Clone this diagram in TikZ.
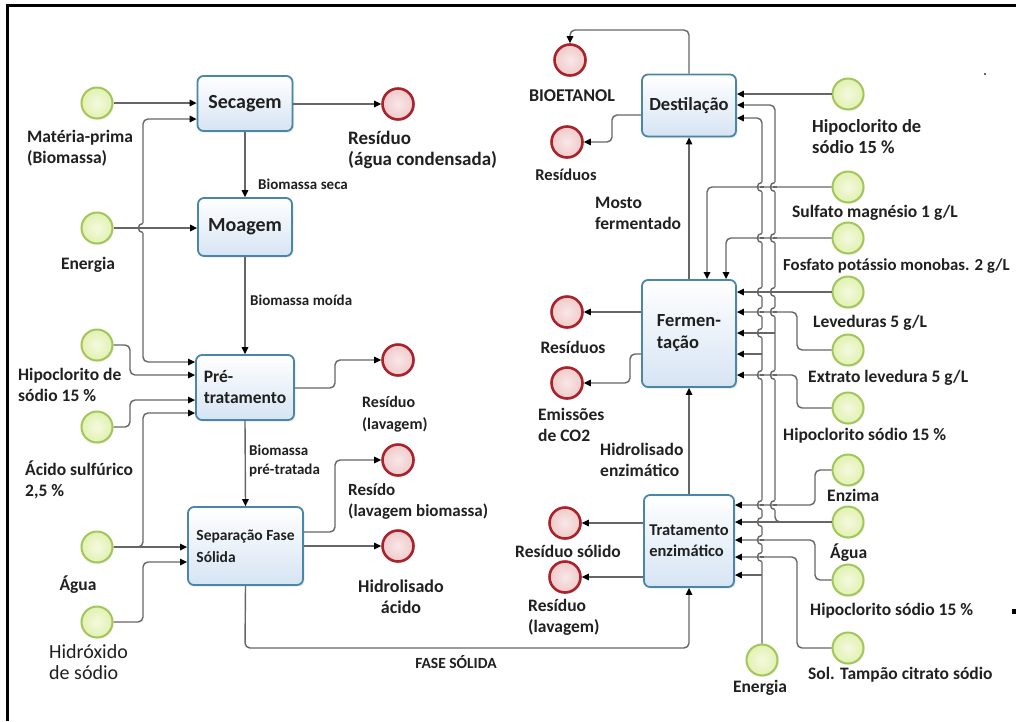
\documentclass[tikz,border=0pt]{standalone}
\usepackage{fontspec}
\setmainfont{Carlito}
\usetikzlibrary{arrows.meta,shadows}
\definecolor{wirec}{HTML}{666666}
\definecolor{boxb}{HTML}{4A86A8}
\definecolor{boxf}{HTML}{D6E4F3}
\definecolor{grnb}{HTML}{A3C65A}
\definecolor{grnf}{HTML}{E2F1B0}
\definecolor{redb}{HTML}{A8232B}
\definecolor{redf}{HTML}{F0CACA}
\definecolor{txt}{HTML}{202020}
\newcommand\vhop[2]{%
  \fill[white] ({#1-1.7},{#2-4.8}) rectangle ({#1+1.7},{#2+4.8});
  \draw[plain] ({#1-2.4},#2) -- ({#1+2.4},#2);
  \draw[plain] (#1,{#2-4.6}) .. controls ({#1-6.1},{#2-4.6}) and ({#1-6.1},{#2+4.6}) .. (#1,{#2+4.6});
}
\newcommand\fs[1]{\bfseries\fontsize{#1}{21}\selectfont}
\begin{document}
\begin{tikzpicture}[x=1pt,y=-1pt,
  font=\fs{17.5}, text=txt,
  wire/.style={draw=wirec, line width=1.4pt, rounded corners=5pt, -{Triangle[length=7pt,width=6.5pt,color=black]}},
  wire2/.style={draw=wirec, line width=1.4pt, rounded corners=5pt, {Triangle[length=7pt,width=6.5pt,color=black]}-{Triangle[length=7pt,width=6.5pt,color=black]}},
  plain/.style={draw=wirec, line width=1.4pt},
  proc/.style={draw=boxb, line width=1.8pt, rounded corners=6pt, top color=white, bottom color=boxf, inner sep=2pt, align=left,
    drop shadow={opacity=0.18, shadow xshift=1.5pt, shadow yshift=-1.5pt}},
  src/.style={circle, draw=grnb, line width=2pt, minimum size=31pt, inner sep=0pt, inner color=grnf!40!white, outer color=grnf,
    drop shadow={opacity=0.15, shadow xshift=1.2pt, shadow yshift=-1.2pt}},
  snk/.style={circle, draw=redb, line width=2.6pt, minimum size=31pt, inner sep=0pt, inner color=redf!45!white, outer color=redf,
    drop shadow={opacity=0.15, shadow xshift=1.2pt, shadow yshift=-1.2pt}},
  lbl/.style={inner sep=0pt, align=left},
  clbl/.style={inner sep=0pt, align=center}]
\useasboundingbox (0,0) rectangle (1016,721);
\fill[white] (0,0) rectangle (1016,721);
\draw[line width=2.6pt] (1016,5.5) -- (7.5,5.5) -- (7.5,721);
\fill[black!80] (985,74) circle (1.1pt);
\fill[black] (1012,609) rectangle (1016,614);

% ---------- process boxes ----------
\node[proc, minimum width=95pt, minimum height=55pt, font=\fs{20}] (sec) at (245,103.5) {Secagem};
\node[proc, minimum width=94pt, minimum height=58pt, font=\fs{20}] (moa) at (245,227) {Moagem};
\node[proc, minimum width=98pt, minimum height=65pt, font=\bfseries\fontsize{17.5}{21}\selectfont] (pre) at (245,387.5) {Pré-\\tratamento};
\node[proc, minimum width=115pt, minimum height=78pt, font=\bfseries\fontsize{15.5}{22}\selectfont] (sep) at (245.5,546) {Separação Fase\\Sólida};
\node[proc, minimum width=94pt, minimum height=62pt, font=\fs{18.5}] (dest) at (689,105.5) {Destilação};
\node[proc, minimum width=94pt, minimum height=107pt, font=\bfseries\fontsize{18.5}{22}\selectfont] (ferm) at (689,333.5) {Fermen-\\tação};
\node[proc, minimum width=90pt, minimum height=92pt, font=\bfseries\fontsize{16.5}{21}\selectfont] (trat) at (689,541) {Tratamento\\enzimático};

% ---------- sources (left) ----------
\node[src] (mp) at (97,103) {};
\node[src] (en) at (97,228) {};
\node[src] (hip1) at (97,345) {};
\node[src] (aci) at (97,427) {};
\node[src] (agu) at (97,547) {};
\node[src] (hid) at (97,622) {};
% ---------- sinks (left) ----------
\node[snk] (res1) at (398,104) {};
\node[snk] (res2) at (398,360) {};
\node[snk] (res3) at (398,460) {};
\node[snk] (hac) at (398,546) {};
% ---------- sinks (right) ----------
\node[snk] (bio) at (570,60) {};
\node[snk] (resd) at (567,142) {};
\node[snk] (resf) at (567,312) {};
\node[snk] (co2) at (567,383) {};
\node[snk] (rsol) at (565,523) {};
\node[snk] (rlav) at (565,577) {};
% ---------- sources (right) ----------
\node[src] (h1) at (848,94) {};
\node[src] (sul) at (848,187) {};
\node[src] (fos) at (848,238) {};
\node[src] (lev) at (848,292) {};
\node[src] (ext) at (848,350) {};
\node[src] (hs) at (848,408) {};
\node[src] (enz) at (848,470) {};
\node[src] (agu2) at (848,522) {};
\node[src] (hs2) at (848,580) {};
\node[src] (sol) at (848,648) {};
\node[src] (en2) at (762,660) {};

% ---------- labels ----------
\node[lbl, anchor=west] (lmp) at (27,148) {Matéria-prima\\(Biomassa)};
\node[clbl] (len) at (88,265) {Energia};
\node[lbl, anchor=west] (lhip1) at (18,385) {Hipoclorito de\\sódio 15 \%};
\node[lbl, anchor=west] (laci) at (25,480) {Ácido sulfúrico\\2,5 \%};
\node[clbl] (lagu) at (78,585) {Água};
\node[lbl, anchor=west, font=\fontsize{20}{21}\selectfont] (lhid) at (49,662) {Hidróxido\\de sódio};
\node[lbl, anchor=west, font=\fs{15}] (lbs) at (258,184) {Biomassa seca};
\node[lbl, anchor=west, font=\fs{15}] (lbm) at (250,300) {Biomassa moída};
\node[lbl, anchor=west, font=\bfseries\fontsize{15}{18.5}\selectfont] (lbp) at (249,461) {Biomassa\\pré-tratada};
\node[lbl, anchor=west, font=\fs{19}] (lres1) at (348,150) {Resíduo\\(água condensada)};
\node[lbl, anchor=west, font=\bfseries\fontsize{16}{22}\selectfont] (lres2) at (362,414) {Resíduo\\(lavagem)};
\node[lbl, anchor=west, font=\fs{17}] (lres3) at (348,501) {Resído\\(lavagem biomassa)};
\node[clbl, font=\fs{18}] (lhac) at (401,597) {Hidrolisado\\ácido};
\node[clbl, font=\fs{15.5}] (lfs) at (456,662) {FASE SÓLIDA};
\node[clbl, font=\fs{18}] (lbio) at (572,96) {BIOETANOL};
\node[clbl, font=\fs{16.5}] (lresd) at (566,175) {Resíduos};
\node[lbl, anchor=west] (lmf) at (595,213) {Mosto\\fermentado};
\node[clbl] (lresf) at (573,347) {Resíduos};
\node[lbl, anchor=west] (lco2) at (538,425) {Emissões\\de CO2};
\node[lbl, anchor=west] (lhe) at (600,460) {Hidrolisado\\enzimático};
\node[clbl] (lrsol) at (568,551) {Resíduo sólido};
\node[lbl, anchor=west] (lrlav) at (528,617) {Resíduo\\(lavagem)};
\node[lbl, anchor=west, font=\fs{18.5}] (lh1) at (812,137) {Hipoclorito de\\sódio 15 \%};
\node[lbl, anchor=west] (lsul) at (792,213) {Sulfato magnésio 1 g/L};
\node[lbl, anchor=west, font=\fs{16.8}] (lfos) at (783,266) {Fosfato potássio monobas. 2 g/L};
\node[lbl, anchor=west] (llev) at (813,323) {Leveduras 5 g/L};
\node[lbl, anchor=west] (lext) at (808,378) {Extrato levedura 5 g/L};
\node[lbl, anchor=west] (lhs) at (783,436) {Hipoclorito sódio 15 \%};
\node[lbl, anchor=west] (lenz) at (827,495) {Enzima};
\node[lbl, anchor=west] (lagu2) at (830,553) {Água};
\node[lbl, anchor=west] (lhs2) at (810,611) {Hipoclorito sódio 15 \%};
\node[lbl, anchor=west] (lsol) at (808,675) {Sol. Tampão citrato sódio};
\node[clbl] (len2) at (760,688) {Energia};

% ---------- connectors (left) ----------
\draw[wire] (mp.east) -- (sec.west |- mp.east);
\draw[wire2] (sec.west |- 0,119) -- (143,119) -- (143,362) -- (pre.west |- 0,362);
\draw[wire] (en.east) -- (moa.west |- en.east);
\draw[wire] (hip1.east) -- (130,345) -- (130,375) -- (pre.west |- 0,375);
\draw[wire] (aci.east) -- (130,427) -- (130,400) -- (pre.west |- 0,400);
\draw[wire] (agu.east) -- (sep.west |- agu.east);
\draw[wire] (agu.east) -- (143,547) -- (143,413) -- (pre.west |- 0,413);
\draw[wire] (hid.east) -- (143,622) -- (143,562) -- (sep.west |- 0,562);
\draw[wire] (sec.south) -- (moa.north);
\draw[wire] (moa.south) -- (pre.north);
\draw[wire] (pre.south) -- (sep.north);
\draw[wire] (sec.east |- res1.west) -- (res1.west);
\draw[wire] (pre.east |- 0,388) -- (335,388) -- (335,360) -- (res2.west);
\draw[wire] (sep.east |- 0,532) -- (335,532) -- (335,460) -- (res3.west);
\draw[wire] (sep.east |- hac.west) -- (hac.west);
\draw[wire] (sep.south) -- (245,648) -- (689,648) -- (trat.south);

% ---------- connectors (right) ----------
\draw[wire] (dest.north) -- (689,30) -- (570,30) -- (bio.north);
\draw[wire] (dest.west |- 0,115) -- (612,115) -- (612,142) -- (resd.east);
\draw[wire] (ferm.north) -- (dest.south);
\draw[wire] (ferm.west |- resf.east) -- (resf.east);
\draw[wire] (ferm.west |- 0,354) -- (630,354) -- (630,383) -- (co2.east);
\draw[wire] (trat.north) -- (ferm.south);
\draw[wire] (trat.west |- rsol.east) -- (rsol.east);
\draw[wire] (trat.west |- rlav.east) -- (rlav.east);

\draw[wire] (h1.west) -- (dest.east |- h1.west);
\draw[wire] (agu2.west) -- (775,522) -- (775,105) -- (dest.east |- 0,105);
\draw[wire] (en2.north) -- (762,118) -- (dest.east |- 0,118);
\draw[wire] (sul.west) -- (707,187) -- (ferm.north -| 707,0);
\draw[wire] (fos.west) -- (726,238) -- (ferm.north -| 726,0);
\draw[wire] (lev.west) -- (ferm.east |- lev.west);
\draw[wire] (ext.west) -- (797,350) -- (797,312) -- (ferm.east |- 0,312);
\draw[wire] (775,333) -- (ferm.east |- 0,333);
\draw[wire] (762,354) -- (ferm.east |- 0,354);
\draw[wire] (hs.west) -- (797,408) -- (797,375) -- (ferm.east |- 0,375);
\draw[wire] (enz.west) -- (815,470) -- (815,505) -- (trat.east |- 0,505);
\draw[wire] (agu2.west) -- (trat.east |- agu2.west);
\draw[wire] (hs2.west) -- (815,580) -- (815,540) -- (trat.east |- 0,540);
\draw[wire] (sol.west) -- (797,648) -- (797,557) -- (trat.east |- 0,557);
\draw[wire] (762,575) -- (trat.east |- 0,575);

% ---------- line hops ----------
\vhop{143}{228}
\foreach \yy in {187,238,292,312,333,375,505,522,540,557} {\vhop{762}{\yy}}
\foreach \yy in {187,238,292,312,375,505} {\vhop{775}{\yy}}
\end{tikzpicture}
\end{document}
